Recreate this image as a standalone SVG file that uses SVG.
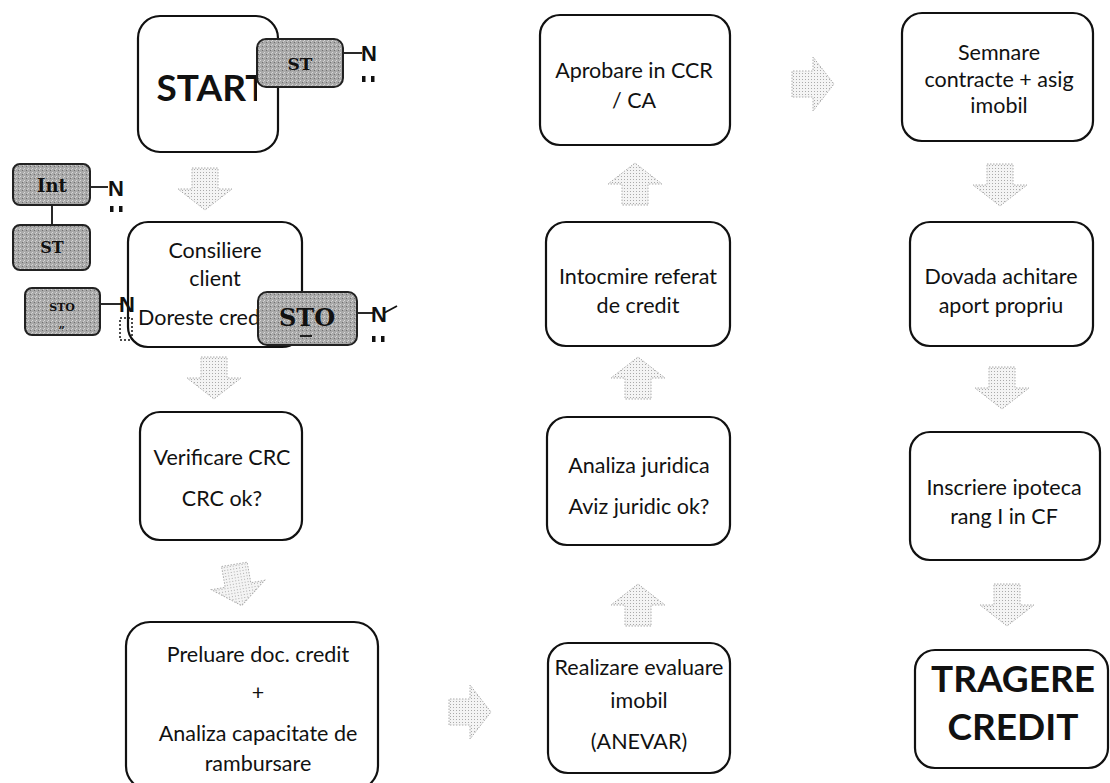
<svg xmlns="http://www.w3.org/2000/svg" width="1110" height="783" viewBox="0 0 1110 783">
<defs>
<style>
.box{fill:#fff;stroke:#111;stroke-width:2.2}
.t{font-family:Lato,"Open Sans","Liberation Sans",sans-serif;font-size:21.5px;fill:#111;text-anchor:middle}
.big{font-family:Lato,"Open Sans","Liberation Sans",sans-serif;font-size:37px;font-weight:bold;fill:#111;text-anchor:middle}
.tag{fill:url(#grain);stroke:#222;stroke-width:2}
.tt{font-family:"DejaVu Serif","Liberation Serif",serif;font-weight:bold;fill:#111;text-anchor:middle}
.n{font-family:"Liberation Sans",sans-serif;font-weight:bold;font-size:22px;fill:#111}
.ln{stroke:#111;stroke-width:1.8;fill:none}
.dot{fill:#111}
.arr{fill:url(#dots);stroke:#aaa;stroke-width:1;stroke-dasharray:1.5 1.5}
</style>
<pattern id="grain" width="4" height="4" patternUnits="userSpaceOnUse">
<rect width="4" height="4" fill="#a9a9a9"/>
<rect x="0" y="0" width="1" height="1" fill="#d8d8d8"/>
<rect x="2" y="2" width="1" height="1" fill="#707070"/>
<rect x="3" y="1" width="1" height="1" fill="#cfcfcf"/>
</pattern>
<pattern id="dots" width="3" height="3" patternUnits="userSpaceOnUse">
<rect width="3" height="3" fill="#f4f4f4"/>
<rect x="1" y="1" width="1" height="1" fill="#aaa"/>
</pattern>
<clipPath id="clipDor"><rect x="128" y="300" width="130" height="40"/></clipPath>
<clipPath id="clipStart"><rect x="138" y="16" width="119" height="136"/></clipPath>
<path id="adown" d="M-13,-21 H13 V0 H27 L0,21 L-27,0 H-13 Z"/>
<g id="dd"><rect x="0" y="0" width="3.5" height="6"/><rect x="9" y="0" width="3.5" height="6"/></g>
</defs>

<g id="connectors">
<use href="#adown" class="arr" transform="translate(205,189)"/>
<use href="#adown" class="arr" transform="translate(214,378)"/>
<use href="#adown" class="arr" transform="translate(238,585) rotate(-10)"/>
<use href="#adown" class="arr" transform="translate(470,712) rotate(-90)"/>
<use href="#adown" class="arr" transform="translate(638,605) rotate(180)"/>
<use href="#adown" class="arr" transform="translate(638,378) rotate(180)"/>
<use href="#adown" class="arr" transform="translate(635,184) rotate(180)"/>
<use href="#adown" class="arr" transform="translate(813,84) rotate(-90)"/>
<use href="#adown" class="arr" transform="translate(1000,185)"/>
<use href="#adown" class="arr" transform="translate(1002,388)"/>
<use href="#adown" class="arr" transform="translate(1007,605)"/>
<path class="ln" d="M343,53 H362"/>
<path class="ln" d="M90,187 H108"/>
<path class="ln" d="M52,205 V225"/>
<path class="ln" d="M100,304 H123"/>
<path class="ln" d="M357,313 H373"/>
<path class="ln" d="M384,313 L397,306"/>
</g>

<g id="start">
<rect class="box" x="138" y="16" width="140" height="136" rx="22"/>
<text class="big" x="212" y="101" clip-path="url(#clipStart)">START</text>
</g>
<g id="tag-st-top">
<rect class="tag" x="257" y="39" width="86" height="48" rx="9"/>
<text class="tt" x="300" y="70" font-size="17">ST</text>
<text class="n" x="361" y="61">N</text>
<use href="#dd" class="dot" x="362" y="76"/>
</g>

<g id="tag-int">
<rect class="tag" x="13" y="164" width="77" height="41" rx="7"/>
<text class="tt" x="52" y="192" font-size="18">Int</text>
<text class="n" x="108" y="196">N</text>
<use href="#dd" class="dot" x="110" y="206"/>
</g>
<g id="tag-st-left">
<rect class="tag" x="13" y="225" width="77" height="45" rx="7"/>
<text class="tt" x="52" y="253" font-size="16">ST</text>
</g>
<g id="tag-sto-left">
<rect class="tag" x="25" y="288" width="75" height="47" rx="7"/>
<text class="tt" x="62" y="311" font-size="11">STO</text>
<text class="tt" x="62" y="328" font-size="11">„</text>
</g>

<g id="consiliere">
<rect class="box" x="128" y="222" width="174" height="125" rx="20"/>
<text class="t" x="215" y="258">Consiliere</text>
<text class="t" x="215" y="286">client</text>
<text class="t" x="138" y="325" style="text-anchor:start" clip-path="url(#clipDor)">Doreste credit?</text>
<text class="n" x="119" y="312">N</text>
<rect x="120" y="318" width="12" height="22" fill="none" stroke="#111" stroke-width="1.5" stroke-dasharray="2 2"/>
</g>
<g id="tag-sto-mid">
<rect class="tag" x="258" y="292" width="99" height="53" rx="9"/>
<text class="tt" x="307" y="326" font-size="24">STO</text>
<path class="ln" d="M300,336 H312" stroke-width="2"/>
<text class="n" x="371" y="322">N</text>
<use href="#dd" class="dot" x="372" y="336"/>
</g>

<g id="verificare">
<rect class="box" x="140" y="412" width="162" height="128" rx="20"/>
<text class="t" x="222" y="465">Verificare CRC</text>
<text class="t" x="222" y="506">CRC ok?</text>
</g>

<g id="preluare">
<rect class="box" x="126" y="622" width="252" height="168" rx="24"/>
<text class="t" x="258" y="662">Preluare doc. credit</text>
<text class="t" x="258" y="700">+</text>
<text class="t" x="258" y="741">Analiza capacitate de</text>
<text class="t" x="258" y="771">rambursare</text>
</g>

<g id="realizare">
<rect class="box" x="548" y="643" width="182" height="130" rx="20"/>
<text class="t" x="639" y="675" font-size="20">Realizare evaluare</text>
<text class="t" x="639" y="708">imobil</text>
<text class="t" x="639" y="749">(ANEVAR)</text>
</g>

<g id="analiza">
<rect class="box" x="547" y="417" width="183" height="128" rx="20"/>
<text class="t" x="639" y="473">Analiza juridica</text>
<text class="t" x="639" y="514">Aviz juridic ok?</text>
</g>

<g id="intocmire">
<rect class="box" x="546" y="222" width="184" height="124" rx="20"/>
<text class="t" x="638" y="284">Intocmire referat</text>
<text class="t" x="638" y="313">de credit</text>
</g>

<g id="aprobare">
<rect class="box" x="540" y="15" width="190" height="130" rx="20"/>
<text class="t" x="634" y="78">Aprobare in CCR</text>
<text class="t" x="634" y="108">/ CA</text>
</g>

<g id="semnare">
<rect class="box" x="902" y="13" width="191" height="128" rx="20"/>
<text class="t" x="999" y="60">Semnare</text>
<text class="t" x="999" y="87">contracte + asig</text>
<text class="t" x="999" y="113">imobil</text>
</g>

<g id="dovada">
<rect class="box" x="910" y="222" width="183" height="124" rx="20"/>
<text class="t" x="1001" y="284">Dovada achitare</text>
<text class="t" x="1001" y="313">aport propriu</text>
</g>

<g id="inscriere">
<rect class="box" x="910" y="432" width="190" height="128" rx="20"/>
<text class="t" x="1004" y="495">Inscriere ipoteca</text>
<text class="t" x="1004" y="524">rang I in CF</text>
</g>

<g id="tragere">
<rect class="box" x="915" y="650" width="193" height="118" rx="20"/>
<text class="big" x="1013" y="692" font-size="34">TRAGERE</text>
<text class="big" x="1013" y="740" font-size="34">CREDIT</text>
</g>
</svg>
